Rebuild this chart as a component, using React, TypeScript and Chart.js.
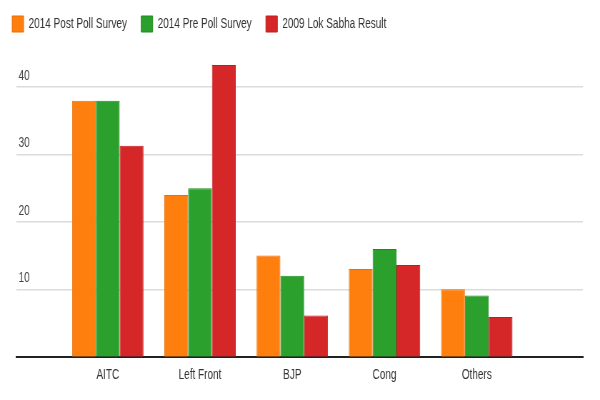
import { useEffect, useRef } from "react";
import Chart from "chart.js/auto";

// Values (% vote share)
const parties = ["AITC", "Left Front", "BJP", "Cong", "Others"];
const postPoll2014 = [38, 24, 15, 13, 10];
const prePoll2014 = [38, 25, 12, 16, 9.1];
const lokSabha2009 = [31.3, 43.3, 6.1, 13.6, 5.9];
const yTicks = [10, 20, 30, 40];

// the reference looks like a wider chart squeezed to 600px, so draw wide and scale down
const CANVAS_W = 840;
const CANVAS_H = 400;
const FONT = "'Liberation Sans', Arial, sans-serif";

const App = () => {
  const chartRef = useRef<HTMLCanvasElement | null>(null);

  useEffect(() => {
    document.body.style.margin = "0";
    if (!chartRef.current) return;

    const toPoints = (vals: number[]) => vals.map((v, i) => ({ x: i, y: v }));

    const myChart = new Chart(chartRef.current, {
      type: "bar",
      data: {
        datasets: [
          {
            label: "2014 Post Poll Survey",
            data: toPoints(postPoll2014),
            backgroundColor: "#ff7f0e",
            borderColor: "#e86f05",
            borderWidth: 1,
          },
          {
            label: "2014 Pre Poll Survey",
            data: toPoints(prePoll2014),
            backgroundColor: "#2ca02c",
            borderColor: "#1f8a1f",
            borderWidth: 1,
          },
          {
            label: "2009 Lok Sabha Result",
            data: toPoints(lokSabha2009),
            backgroundColor: "#d62728",
            borderColor: "#c01c1d",
            borderWidth: 1,
          },
        ],
      },
      options: {
        animation: false,
        responsive: false,
        categoryPercentage: 0.774,
        barPercentage: 1,
        layout: { padding: { top: -4, right: 24, bottom: 6.5, left: -3 } },
        plugins: {
          tooltip: { enabled: false },
          legend: {
            align: "start",
            labels: {
              boxWidth: 16,
              boxHeight: 16,
              padding: 20,
              color: "#333",
              font: { family: FONT, size: 14 },
            },
          },
        },
        scales: {
          x: {
            type: "linear",
            offset: false,
            min: -0.99,
            max: 5.15,
            afterBuildTicks: (axis) => {
              axis.ticks = parties.map((_, i) => ({ value: i }));
            },
            ticks: {
              padding: 10,
              color: "#333",
              font: { family: FONT, size: 14 },
              callback: (v) => parties[Number(v)] ?? "",
            },
            grid: { display: false, drawTicks: false, offset: false },
            border: { color: "#222", width: 2 },
          },
          y: {
            min: 0,
            max: 46.7,
            afterBuildTicks: (axis) => {
              axis.ticks = yTicks.map((v) => ({ value: v }));
            },
            ticks: {
              mirror: true,
              padding: 3,
              labelOffset: -11,
              color: "#444",
              font: { family: FONT, size: 14 },
            },
            grid: {
              color: "#dcdcdc",
              lineWidth: 1.5,
              drawTicks: true,
              tickLength: 20,
              tickColor: "transparent",
            },
            border: { display: false },
          },
        },
      },
    });

    return () => {
      myChart.destroy();
    };
  }, []);

  return (
    <canvas
      ref={chartRef}
      width={CANVAS_W}
      height={CANVAS_H}
      style={{ width: 600, height: 400, display: "block" }}
    />
  );
};

export default App;
